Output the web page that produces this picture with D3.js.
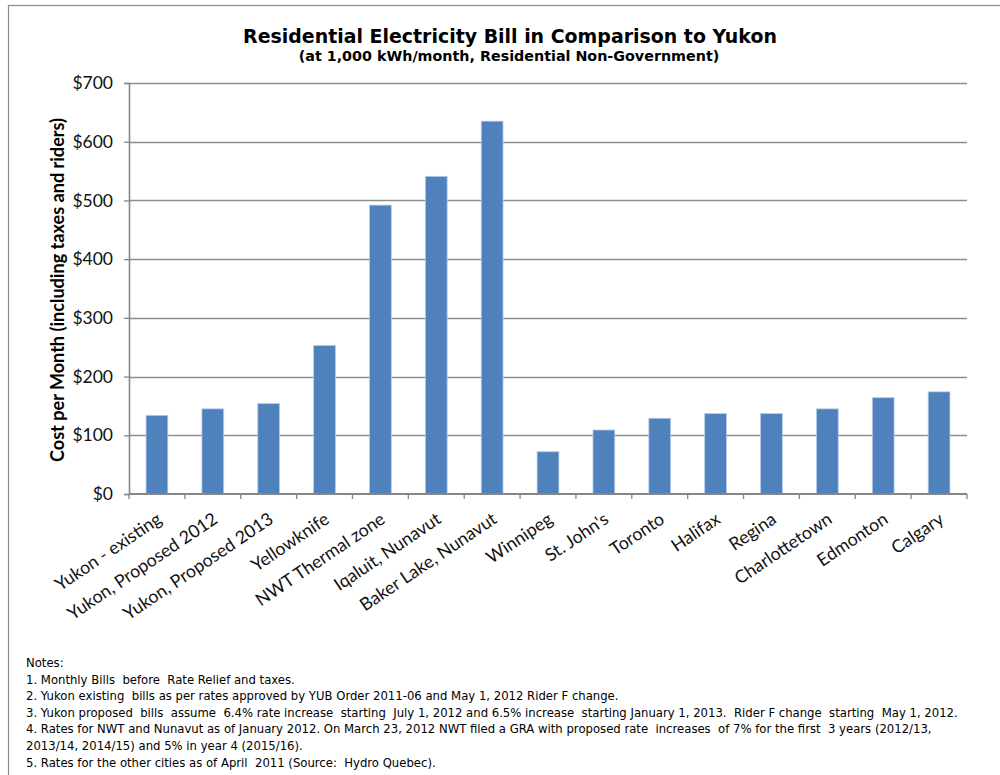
<!DOCTYPE html>
<html>
<head>
<meta charset="utf-8">
<script src="https://cdn.jsdelivr.net/npm/d3@7"></script>
<style>
  html, body { margin: 0; padding: 0; background: #fff; }
  svg { display: block; }
</style>
</head>
<body>
<svg id="chart" width="1000" height="775"></svg>
<script>
// Monthly residential bill at 1,000 kWh/month (CAD)
const categories = [
  "Yukon - existing", "Yukon, Proposed 2012", "Yukon, Proposed 2013", "Yellowknife",
  "NWT Thermal  zone", "Iqaluit, Nunavut", "Baker Lake, Nunavut", "Winnipeg",
  "St. John's", "Toronto", "Halifax", "Regina", "Charlottetown", "Edmonton", "Calgary"
];
const monthlyCost = [134, 145, 154, 253, 492, 541, 635, 72, 109, 129, 137, 137, 145, 164, 174];
const yTicks = [0, 100, 200, 300, 400, 500, 600, 700];

const titleText = "Residential Electricity Bill in Comparison to Yukon";
const subtitleText = "(at 1,000 kWh/month, Residential Non-Government)";
const yAxisTitle = "Cost per Month (including taxes and riders)";
const notes = [
  "Notes:",
  "1. Monthly Bills  before  Rate Relief and taxes.",
  "2. Yukon existing  bills as per rates approved by YUB Order 2011-06 and May 1, 2012 Rider F change.",
  "3. Yukon proposed  bills  assume  6.4% rate increase  starting  July 1, 2012 and 6.5% increase  starting January 1, 2013.  Rider F change  starting  May 1, 2012.",
  "4. Rates for NWT and Nunavut as of January 2012. On March 23, 2012 NWT filed a GRA with proposed rate  increases  of 7% for the first  3 years (2012/13,",
  "2013/14, 2014/15) and 5% in year 4 (2015/16).",
  "5. Rates for the other cities as of April  2011 (Source:  Hydro Quebec)."
];

const svg = d3.select("#chart");
const axisGray = "#868686";
const gridGray = "#8e8e8e";
const barFill = "#4F81BD";

// Outer chart frame
svg.append("rect")
  .attr("x", 8.5).attr("y", 5.5)
  .attr("width", 1000).attr("height", 800)
  .attr("fill", "none").attr("stroke", "#8a8a8a").attr("stroke-width", 1.2);

// Plot area
const plot = { left: 129, right: 967, top: 83, bottom: 494 };

const x = d3.scaleBand()
  .domain(categories)
  .range([plot.left, plot.right])
  .paddingInner(0.61)
  .paddingOuter(0.305);

const y = d3.scaleLinear()
  .domain([0, 700])
  .range([plot.bottom, plot.top]);

// Shrink or grow a text node's font so it spans a given width
function fitWidth(sel, target) {
  sel.each(function () {
    const fs = parseFloat(this.getAttribute("font-size"));
    const w = this.getComputedTextLength();
    if (w > 0) this.setAttribute("font-size", (fs * target / w).toFixed(2));
  });
}

// Horizontal gridlines
svg.append("g")
  .selectAll("line")
  .data(yTicks.filter(d => d > 0))
  .join("line")
  .attr("x1", plot.left).attr("x2", plot.right)
  .attr("y1", d => Math.round(y(d)) + 0.5).attr("y2", d => Math.round(y(d)) + 0.5)
  .attr("stroke", gridGray).attr("stroke-width", 1.3);

// Bars
svg.append("g")
  .selectAll("rect")
  .data(categories.map((c, i) => ({ c, v: monthlyCost[i] })))
  .join("rect")
  .attr("x", d => x(d.c))
  .attr("width", x.bandwidth())
  .attr("y", d => y(d.v))
  .attr("height", d => y(0) - y(d.v))
  .attr("fill", barFill)
  .attr("stroke", "#b8cce4")
  .attr("stroke-width", 0.8);

// Y axis
const yAxis = d3.axisLeft(y)
  .tickValues(yTicks)
  .tickSize(5)
  .tickPadding(11)
  .tickFormat(d => "$" + d);

const gy = svg.append("g")
  .attr("transform", `translate(${plot.left},0)`)
  .call(yAxis);
gy.select(".domain").attr("stroke", axisGray).attr("stroke-width", 1.6);
gy.selectAll(".tick line").attr("stroke", axisGray).attr("stroke-width", 1.3);
gy.selectAll(".tick text")
  .attr("font-family", "Lato, 'Open Sans', sans-serif")
  .attr("font-size", 17.5)
  .attr("fill", "#111");

// X axis line with ticks at category boundaries
const step = x.step();
const boundaries = d3.range(categories.length + 1).map(i => plot.left + i * step);
const gx = svg.append("g");
gx.append("line")
  .attr("x1", plot.left).attr("x2", plot.right)
  .attr("y1", plot.bottom).attr("y2", plot.bottom)
  .attr("stroke", axisGray).attr("stroke-width", 1.8);
gx.selectAll("line.tk")
  .data(boundaries)
  .join("line")
  .attr("class", "tk")
  .attr("x1", d => d).attr("x2", d => d)
  .attr("y1", plot.bottom).attr("y2", plot.bottom + 5)
  .attr("stroke", axisGray).attr("stroke-width", 1.3);

// Rotated category labels
gx.selectAll("text")
  .data(categories)
  .join("text")
  .attr("transform", d => `translate(${x(d) + x.bandwidth() / 2 + 6},${plot.bottom + 28}) rotate(-34)`)
  .attr("text-anchor", "end")
  .attr("font-family", "Lato, 'Open Sans', sans-serif")
  .attr("font-size", 17.8)
  .attr("fill", "#111")
  .text(d => d);

// Y axis title
svg.append("text")
  .attr("transform", `translate(64,${(118 + 462) / 2}) rotate(-90)`)
  .attr("text-anchor", "middle")
  .attr("font-family", "Lato, 'Open Sans', sans-serif")
  .attr("font-weight", "bold")
  .attr("font-size", 15.5)
  .attr("fill", "#000")
  .text(yAxisTitle)
  .call(fitWidth, 344);

// Titles
svg.append("text")
  .attr("x", 510).attr("y", 43)
  .attr("text-anchor", "middle")
  .attr("font-family", "'DejaVu Sans', Verdana, sans-serif")
  .attr("font-weight", "bold")
  .attr("font-size", 20)
  .attr("fill", "#000")
  .text(titleText)
  .call(fitWidth, 534);

svg.append("text")
  .attr("x", 509).attr("y", 61)
  .attr("text-anchor", "middle")
  .attr("font-family", "'DejaVu Sans', Verdana, sans-serif")
  .attr("font-weight", "bold")
  .attr("font-size", 14)
  .attr("fill", "#000")
  .text(subtitleText)
  .call(fitWidth, 421);

// Notes block
const noteG = svg.append("g")
  .attr("font-family", "'DejaVu Sans', Verdana, sans-serif")
  .attr("font-size", 11.66)
  .attr("fill", "#000");
noteG.selectAll("text")
  .data(notes)
  .join("text")
  .attr("x", 26)
  .attr("y", (d, i) => 667 + i * 16.6)
  .attr("xml:space", "preserve")
  .style("white-space", "pre")
  .text(d => d);
</script>
</body>
</html>
